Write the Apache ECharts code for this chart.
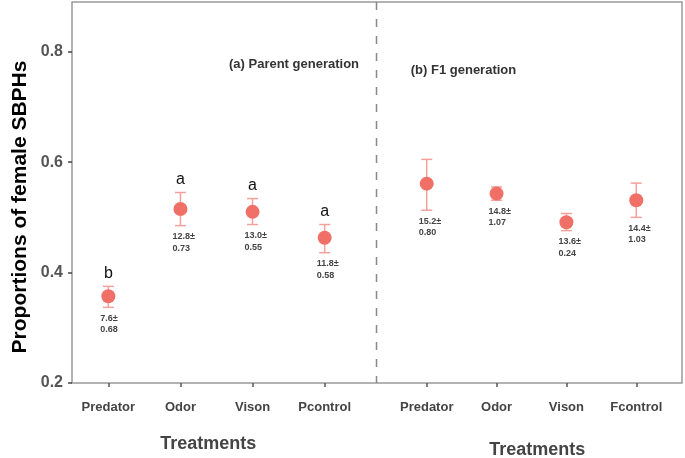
<!DOCTYPE html>
<html>
<head>
<meta charset="utf-8">
<script src="https://cdn.jsdelivr.net/npm/echarts@6/dist/echarts.min.js"></script>
<style>html,body{margin:0;padding:0;background:#fff}#c{width:685px;height:458px}</style>
</head>
<body>
<div id="c"></div>
<script>
// ---- data ----
const parentCategories = ['Predator', 'Odor', 'Vison', 'Pcontrol'];
const f1Categories = ['Predator', 'Odor', 'Vison', 'Fcontrol'];
const parentMean = [0.357, 0.515, 0.510, 0.463];
const parentLow  = [0.337, 0.485, 0.487, 0.436];
const parentHigh = [0.375, 0.545, 0.534, 0.487];
const parentLetters = ['b', 'a', 'a', 'a'];
const parentCountMean = ['7.6', '12.8', '13.0', '11.8'];
const parentCountSE   = ['0.68', '0.73', '0.55', '0.58'];
const f1Mean = [0.561, 0.543, 0.491, 0.531];
const f1Low  = [0.513, 0.531, 0.476, 0.500];
const f1High = [0.605, 0.555, 0.507, 0.562];
const f1Letters = ['', '', '', ''];
const f1CountMean = ['15.2', '14.8', '13.6', '14.4'];
const f1CountSE   = ['0.80', '1.07', '0.24', '1.03'];
const yTicks = [0.2, 0.4, 0.6, 0.8];
const yTitle = 'Proportions of female SBPHs';
const xTitle = 'Treatments';
const panelTitles = ['(a) Parent generation', '(b) F1 generation'];

// ---- styling ----
const FONT = '"Liberation Sans", Arial, Helvetica, sans-serif';
const DOT = '#f07067';
const BAR = '#f4a19b';
const idx = [0, 1, 2, 3];

function errSeries(gridIdx, low, high, letters, cm, cse) {
  return {
    type: 'custom', xAxisIndex: gridIdx, yAxisIndex: gridIdx, z: 2,
    data: idx.map(i => [i, low[i], high[i]]),
    renderItem: function (params, api) {
      const d = params.dataIndex;
      const pl = api.coord([api.value(0), api.value(1)]);
      const ph = api.coord([api.value(0), api.value(2)]);
      const x = pl[0], cap = 5.5;
      const ls = { stroke: BAR, lineWidth: 1.5 };
      const ch = [
        { type: 'line', shape: { x1: x, y1: pl[1], x2: x, y2: ph[1] }, style: ls },
        { type: 'line', shape: { x1: x - cap, y1: pl[1], x2: x + cap, y2: pl[1] }, style: ls },
        { type: 'line', shape: { x1: x - cap, y1: ph[1], x2: x + cap, y2: ph[1] }, style: ls },
        { type: 'text', style: { text: cm[d] + '±', x: x - 8, y: pl[1] + 11, fill: '#444', font: 'bold 9px ' + FONT, align: 'left', verticalAlign: 'middle' } },
        { type: 'text', style: { text: cse[d], x: x - 8, y: pl[1] + 22.5, fill: '#444', font: 'bold 9px ' + FONT, align: 'left', verticalAlign: 'middle' } }
      ];
      if (letters[d]) {
        ch.push({ type: 'text', style: { text: letters[d], x: x, y: ph[1] - 13, fill: '#111', font: '16px ' + FONT, align: 'center', verticalAlign: 'middle' } });
      }
      return { type: 'group', children: ch };
    }
  };
}

function dotSeries(gridIdx, mean) {
  return {
    type: 'scatter', xAxisIndex: gridIdx, yAxisIndex: gridIdx, z: 3,
    symbol: 'circle', symbolSize: 14,
    itemStyle: { color: DOT, opacity: 1 },
    data: idx.map(i => [i, mean[i]])
  };
}

function xAxisFor(gridIdx, cats, min, max, namePad, nameGap) {
  return {
    type: 'value', gridIndex: gridIdx, min: min, max: max,
    axisLine: { show: false, onZero: false },
    splitLine: { show: false },
    axisTick: { show: true, inside: false, length: 4, customValues: idx, lineStyle: { color: '#555', width: 1.5 } },
    axisLabel: { customValues: idx, formatter: v => cats[Math.round(v)], margin: 18, color: '#444', fontFamily: FONT, fontWeight: 'bold', fontSize: 13 },
    name: xTitle, nameLocation: 'middle', nameGap: nameGap,
    nameTextStyle: { color: '#444', fontFamily: FONT, fontWeight: 'bold', fontSize: 18, padding: namePad }
  };
}

const chart = echarts.init(document.getElementById('c'), null, { renderer: 'canvas' });
chart.setOption({
  animation: false,
  backgroundColor: '#fff',
  grid: [
    { left: 72, top: 2, width: 304.5, height: 381, show: false, outerBoundsMode: 'none', containLabel: false },
    { left: 376.5, top: 2, width: 305.5, height: 381, show: false, outerBoundsMode: 'none', containLabel: false }
  ],
  xAxis: [
    xAxisFor(0, parentCategories, -0.504, 3.719, [0, 32, 0, 0], 52),
    xAxisFor(1, f1Categories, -0.719, 3.655, [0, 0, 0, 16], 58)
  ],
  yAxis: [
    {
      type: 'value', gridIndex: 0, min: 0.2, max: 0.89,
      axisLine: { show: false, onZero: false }, splitLine: { show: false },
      axisTick: { show: true, inside: false, length: 4, customValues: yTicks, lineStyle: { color: '#444', width: 1.5 } },
      axisLabel: { customValues: yTicks, formatter: v => v.toFixed(1), margin: 9, color: '#555', fontFamily: FONT, fontWeight: 'bold', fontSize: 16 }
    },
    { type: 'value', gridIndex: 1, min: 0.2, max: 0.89, show: false, axisLine: { onZero: false } }
  ],
  graphic: [
    { type: 'rect', shape: { x: 72, y: 2, width: 610, height: 381 }, style: { fill: 'none', stroke: '#999', lineWidth: 1.5 }, z: 0 },
    { type: 'line', shape: { x1: 376.5, y1: 2, x2: 376.5, y2: 383 }, style: { stroke: '#888', lineWidth: 1.5, lineDash: [8, 9] }, z: 0 },
    { type: 'text', x: 20, y: 207, rotation: Math.PI / 2, style: { text: yTitle, fill: '#000', font: 'bold 21px ' + FONT, align: 'center', verticalAlign: 'middle' } },
    { type: 'text', x: 294, y: 64, style: { text: panelTitles[0], fill: '#333', font: 'bold 13px ' + FONT, align: 'center', verticalAlign: 'middle' } },
    { type: 'text', x: 463.5, y: 70, style: { text: panelTitles[1], fill: '#333', font: 'bold 13px ' + FONT, align: 'center', verticalAlign: 'middle' } }
  ],
  series: [
    errSeries(0, parentLow, parentHigh, parentLetters, parentCountMean, parentCountSE),
    dotSeries(0, parentMean),
    errSeries(1, f1Low, f1High, f1Letters, f1CountMean, f1CountSE),
    dotSeries(1, f1Mean)
  ]
});
</script>
</body>
</html>
